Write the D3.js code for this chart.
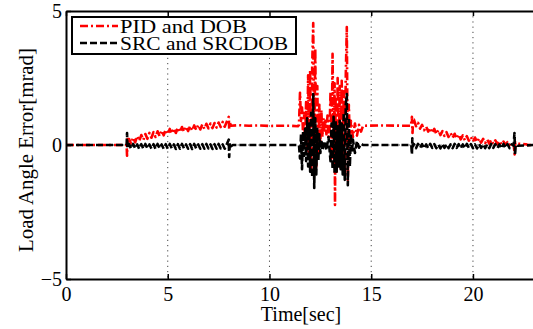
<!DOCTYPE html>
<html>
<head>
<meta charset="utf-8">
<script src="https://d3js.org/d3.v7.min.js"></script>
<style>
  body { margin: 0; background: #fff; }
  svg { display: block; }
  text { font-family: "Liberation Serif", "DejaVu Serif", serif; }
</style>
</head>
<body>
<svg id="chart" width="533" height="329"></svg>
<script>
// values: [time in sec, error in mrad]
const xTicks = [0, 5, 10, 15, 20]
const yTicks = [-5, 0, 5]
const seriesNames = ['PID and DOB', 'SRC and SRCDOB']

const pidDob = [
  [0, 0], [2.98, 0], [3.0, -0.4], [3.02, 0.3], [3.06, 0.1],
  [3.1, 0.22], [3.2, 0.05], [3.3, 0.28], [3.4, 0.10], [3.5, 0.33], [3.6, 0.15], [3.7, 0.37], [3.8, 0.19], [3.9, 0.41],
  [4.0, 0.23], [4.1, 0.45], [4.2, 0.27], [4.3, 0.48], [4.4, 0.30], [4.5, 0.51], [4.6, 0.33], [4.7, 0.54], [4.8, 0.36], [4.9, 0.57],
  [5.0, 0.40], [5.1, 0.60], [5.2, 0.43], [5.3, 0.62], [5.4, 0.45], [5.5, 0.65], [5.6, 0.48], [5.7, 0.67], [5.8, 0.50], [5.9, 0.69],
  [6.0, 0.52], [6.1, 0.71], [6.2, 0.54], [6.3, 0.73], [6.4, 0.56], [6.5, 0.75], [6.6, 0.58], [6.7, 0.77], [6.8, 0.60], [6.9, 0.79],
  [7.0, 0.62], [7.1, 0.80], [7.2, 0.63], [7.3, 0.82], [7.4, 0.65], [7.5, 0.84], [7.6, 0.67], [7.7, 0.86], [7.8, 0.68], [7.9, 0.87],
  [8.0, 1.05], [8.02, 0.6], [8.05, 0.85], [8.1, 0.72],
  [8.5, 0.74], [9.0, 0.72], [9.5, 0.73], [10.0, 0.71], [10.5, 0.72], [11.0, 0.72], [11.4, 0.70],
  [11.45, 0.75], [11.5, 1.95], [11.55, 0.9], [11.6, 1.4], [11.65, 0.4], [11.7, 1.2], [11.75, 0.1], [11.8, 1.6], [11.85, -0.2],
  [11.9, 2.6], [11.95, -0.5], [12.0, 2.8], [12.05, -0.9], [12.1, 3.0], [12.15, 4.55], [12.2, -0.9], [12.25, 3.6], [12.3, -0.8],
  [12.35, 2.2], [12.4, -0.3], [12.45, 1.5], [12.5, 0.1], [12.55, 1.3], [12.6, 0.3], [12.65, 1.0],
  [12.7, 0.45], [12.75, 0.9], [12.8, 0.4], [12.85, 1.1], [12.9, 0.3], [12.95, 0.4],
  [13.0, 2.0], [13.05, -0.5], [13.1, 3.4], [13.15, -0.4], [13.2, 2.3], [13.22, -2.24], [13.25, 1.8], [13.3, -1.0], [13.35, 2.5],
  [13.4, -0.7], [13.45, 2.2], [13.5, -0.9], [13.55, 2.4], [13.6, -0.5], [13.65, 2.0], [13.7, -1.0], [13.75, 2.6], [13.8, 4.4],
  [13.85, -1.3], [13.9, 1.5], [13.95, 0.0], [14.0, 0.9],
  [14.1, 0.3], [14.2, 0.8], [14.3, 0.35], [14.4, 0.75], [14.5, 0.5], [14.6, 0.72],
  [15.5, 0.73], [16.5, 0.72], [16.95, 0.72],
  [17.0, 1.05], [17.03, 0.45], [17.06, 0.95],
  [17.1, 0.95], [17.2, 0.70], [17.3, 0.83], [17.4, 0.61], [17.5, 0.75], [17.6, 0.55], [17.7, 0.69], [17.8, 0.50], [17.9, 0.64],
  [18.0, 0.45], [18.1, 0.60], [18.2, 0.41], [18.3, 0.56], [18.4, 0.37], [18.5, 0.52], [18.6, 0.34], [18.7, 0.48], [18.8, 0.30], [18.9, 0.45],
  [19.0, 0.27], [19.1, 0.42], [19.2, 0.24], [19.3, 0.39], [19.4, 0.21], [19.5, 0.36], [19.6, 0.18], [19.7, 0.33], [19.8, 0.16], [19.9, 0.30],
  [20.0, 0.13], [20.1, 0.28], [20.2, 0.11], [20.3, 0.25], [20.4, 0.09], [20.5, 0.23], [20.6, 0.07], [20.7, 0.21], [20.8, 0.05], [20.9, 0.19],
  [21.0, 0.04], [21.1, 0.17], [21.2, 0.03], [21.3, 0.15], [21.4, 0.02], [21.5, 0.13], [21.6, 0.01], [21.7, 0.11], [21.8, 0.0], [21.9, 0.09],
  [22.0, 0.02], [22.05, -0.35], [22.08, 0.1], [22.15, 0.05], [22.6, 0.03], [22.7, 0], [23, 0]
]

const srcSrcdob = [
  [0, 0], [2.98, 0], [3.0, 0.45], [3.02, -0.1], [3.05, 0.05],
  [3.1, 0.03], [3.2, -0.14], [3.3, 0.04], [3.4, -0.13], [3.5, 0.02], [3.6, -0.15], [3.7, 0.03], [3.8, -0.14], [3.9, 0.04],
  [4.0, -0.13], [4.1, 0.02], [4.2, -0.14], [4.3, 0.03], [4.4, -0.15], [4.5, 0.04], [4.6, -0.13], [4.7, 0.02], [4.8, -0.14], [4.9, 0.03],
  [5.0, -0.14], [5.1, 0.04], [5.2, -0.13], [5.3, 0.02], [5.4, -0.15], [5.5, 0.03], [5.6, -0.14], [5.7, 0.04], [5.8, -0.13], [5.9, 0.02],
  [6.0, -0.14], [6.1, 0.03], [6.2, -0.15], [6.3, 0.04], [6.4, -0.13], [6.5, 0.02], [6.6, -0.14], [6.7, 0.03], [6.8, -0.14], [6.9, 0.04],
  [7.0, -0.13], [7.1, 0.02], [7.2, -0.15], [7.3, 0.03], [7.4, -0.14], [7.5, 0.04], [7.6, -0.13], [7.7, 0.02], [7.8, -0.14], [7.9, 0.03],
  [8.0, 0.2], [8.02, -0.45], [8.05, 0.08], [8.1, -0.05], [8.2, 0], [11.4, 0],
  [11.45, 0], [11.5, -0.5], [11.55, 0.4], [11.6, -0.9], [11.65, 0.5], [11.7, -0.4], [11.75, 0.6], [11.8, -0.6], [11.85, 1.0],
  [11.9, -0.8], [11.95, 0.8], [12.0, -1.0], [12.05, 1.2], [12.1, -1.2], [12.15, 1.9], [12.2, -1.6], [12.25, 1.0], [12.3, -1.1],
  [12.35, 0.6], [12.4, -0.6], [12.45, 0.4], [12.5, -0.3], [12.55, 0.2], [12.6, -0.2],
  [12.7, 0.15], [12.8, -0.2], [12.9, 0.3],
  [13.0, -0.6], [13.05, 0.8], [13.1, -0.9], [13.15, 1.05], [13.2, -1.05], [13.25, 0.9], [13.3, -1.0], [13.35, 0.7], [13.4, -0.8],
  [13.45, 0.9], [13.5, -0.9], [13.55, 0.8], [13.6, -1.1], [13.65, 1.2], [13.7, -1.3], [13.75, 1.5], [13.8, 1.9], [13.85, -1.5],
  [13.9, 1.0], [13.95, -0.8], [14.0, 0.4], [14.05, -0.3],
  [14.1, 0.2], [14.2, -0.3], [14.3, 0.15], [14.4, -0.1], [14.5, 0.05], [14.6, 0], [16.97, 0],
  [17.0, -0.35], [17.02, 0.25], [17.05, -0.05],
  [17.1, 0.03], [17.2, -0.12], [17.3, 0.04], [17.4, -0.11], [17.5, 0.03], [17.6, -0.13], [17.7, 0.02], [17.8, -0.12], [17.9, 0.04],
  [18.0, -0.11], [18.1, 0.03], [18.2, -0.12], [18.3, 0.02], [18.4, -0.13], [18.5, 0.04], [18.6, -0.11], [18.7, 0.03], [18.8, -0.12], [18.9, 0.02],
  [19.0, -0.12], [19.1, 0.04], [19.2, -0.11], [19.3, 0.03], [19.4, -0.13], [19.5, 0.02], [19.6, -0.12], [19.7, 0.04], [19.8, -0.11], [19.9, 0.03],
  [20.0, -0.12], [20.1, 0.02], [20.2, -0.13], [20.3, 0.04], [20.4, -0.11], [20.5, 0.03], [20.6, -0.12], [20.7, 0.02], [20.8, -0.12], [20.9, 0.04],
  [21.0, -0.11], [21.1, 0.03], [21.2, -0.12], [21.3, 0.02], [21.4, -0.13], [21.5, 0.04], [21.6, -0.11], [21.7, 0.03], [21.8, -0.12], [21.9, 0.02],
  [22.0, -0.02], [22.04, 0.45], [22.07, -0.37], [22.1, 0.02], [22.2, -0.03], [23, 0]
]

const width = 533
const height = 329
const margin = ({top: 11, right: -1, bottom: 50, left: 66})
const serif = '"Liberation Serif", "DejaVu Serif", serif'

const svg = d3.select('#chart')

const x = d3.scaleLinear()
  .domain([0, 23])
  .range([margin.left, width - margin.right])
const y = d3.scaleLinear()
  .domain([-5, 5])
  .range([height - margin.bottom, margin.top])

svg.append('clipPath').attr('id', 'plot-clip')
  .append('rect')
  .attr('x', x(0)).attr('y', y(5))
  .attr('width', x(23) - x(0)).attr('height', y(-5) - y(5))

// dotted grid
const grid = svg.append('g')
  .attr('stroke', '#444')
  .attr('stroke-width', 1)
  .attr('stroke-dasharray', '1.2,4')
grid.selectAll('line.vgrid')
  .data(xTicks.filter(d => d > 0))
  .enter().append('line')
  .attr('x1', d => x(d)).attr('x2', d => x(d))
  .attr('y1', y(5)).attr('y2', y(-5))
grid.selectAll('line.hgrid')
  .data(yTicks.filter(d => d > -5 && d < 5))
  .enter().append('line')
  .attr('x1', x(0)).attr('x2', x(23))
  .attr('y1', d => y(d)).attr('y2', d => y(d))

const line = d3.line()
  .x(d => x(d[0]))
  .y(d => y(d[1]))

const plot = svg.append('g').attr('clip-path', 'url(#plot-clip)')
const series = [
  {name: seriesNames[0], values: pidDob, color: '#ff0000', dash: '8,3,2,3', textWidth: 127},
  {name: seriesNames[1], values: srcSrcdob, color: '#000000', dash: '7,3', textWidth: 168}
]
plot.selectAll('path')
  .data(series)
  .enter().append('path')
  .attr('d', d => line(d.values))
  .attr('fill', 'none')
  .attr('stroke', d => d.color)
  .attr('stroke-width', 2.6)
  .attr('stroke-dasharray', d => d.dash)
  .attr('stroke-linejoin', 'round')

const styleAxis = g => {
  g.attr('font-family', serif)
  g.select('.domain').attr('stroke-width', 2)
  g.selectAll('.tick line').attr('stroke-width', 1.5)
  g.selectAll('.tick text')
    .style('font-size', '20px')
    .attr('fill', '#000')
}

svg.append('g')
  .attr('transform', `translate(0,${y(-5)})`)
  .call(d3.axisBottom(x).tickValues(xTicks).tickSize(-5).tickSizeOuter(0).tickPadding(8))
  .call(styleAxis)

svg.append('g')
  .attr('transform', `translate(0,${y(5)})`)
  .call(d3.axisTop(x).tickValues(xTicks).tickSize(-5).tickSizeOuter(0).tickFormat(''))
  .call(styleAxis)

svg.append('g')
  .attr('transform', `translate(${x(0)},0)`)
  .call(d3.axisLeft(y).tickValues(yTicks).tickSize(-5).tickSizeOuter(0).tickPadding(4))
  .call(styleAxis)

// axis titles
svg.append('text')
  .attr('x', (x(0) + x(23)) / 2 + 1)
  .attr('y', 321)
  .attr('text-anchor', 'middle')
  .style('font-size', '20px')
  .text('Time[sec]')

svg.append('text')
  .attr('transform', `translate(33,${(y(5) + y(-5)) / 2 + 5}) rotate(-90)`)
  .attr('text-anchor', 'middle')
  .style('font-size', '20px')
  .attr('textLength', 204)
  .attr('lengthAdjust', 'spacingAndGlyphs')
  .text('Load Angle Error[mrad]')

// legend
const legend = svg.append('g')
legend.append('rect')
  .attr('x', 72).attr('y', 17)
  .attr('width', 224).attr('height', 37)
  .attr('fill', '#fff')
  .attr('stroke', '#000')
  .attr('stroke-width', 2)

const items = legend.selectAll('g.item')
  .data(series)
  .enter().append('g')
  .attr('transform', (d, i) => `translate(0,${26 + i * 17})`)
items.append('line')
  .attr('x1', 80).attr('x2', 118)
  .attr('stroke', d => d.color)
  .attr('stroke-width', 2.6)
  .attr('stroke-dasharray', d => d.dash)
items.append('text')
  .attr('x', 120)
  .attr('y', 7)
  .attr('font-family', serif)
  .style('font-size', '19px')
  .attr('textLength', d => d.textWidth)
  .attr('lengthAdjust', 'spacingAndGlyphs')
  .text(d => d.name)
</script>
</body>
</html>
